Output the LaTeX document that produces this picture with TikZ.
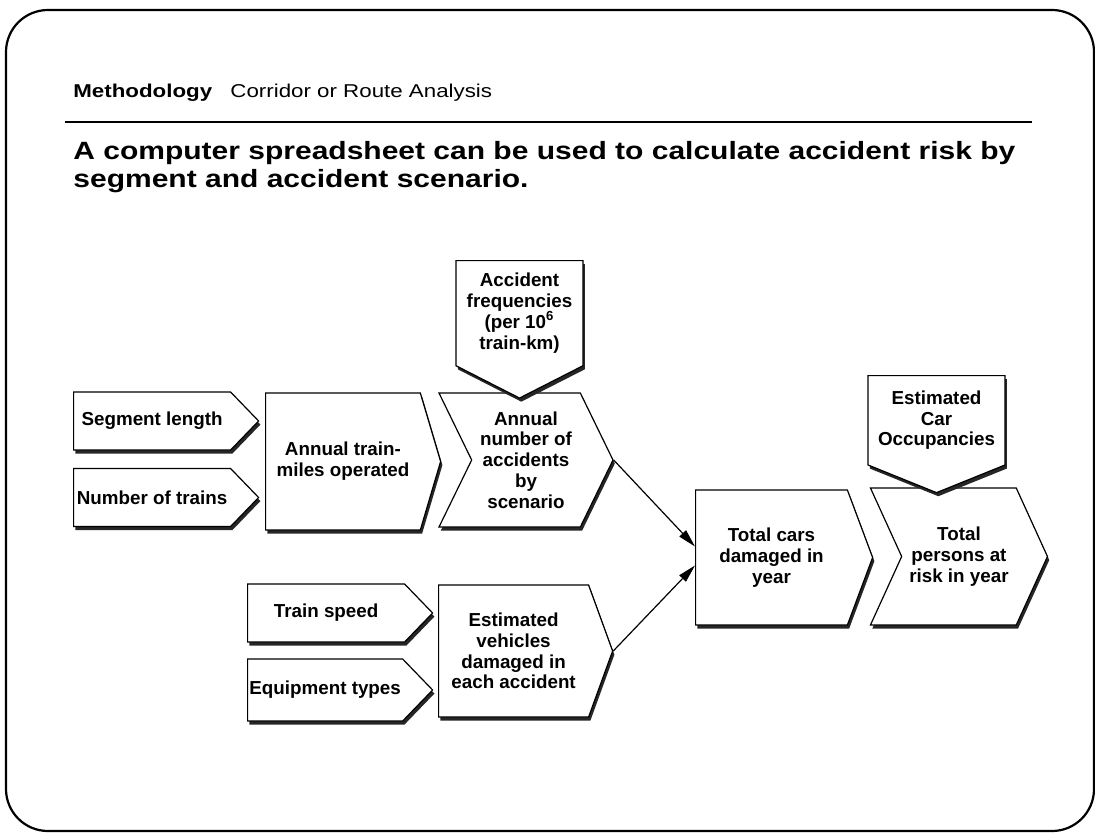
\documentclass[tikz,border=0pt]{standalone}
\usepackage{fontspec}
\setmainfont{Liberation Sans}
\newfontfamily\widesans[FakeStretch=1.2]{Liberation Sans}
\usetikzlibrary{shapes.symbols,shadows,arrows.meta}

\tikzset{
  chev/.style={signal, signal to=east, draw, fill=white, line width=0.6pt,
    inner sep=0pt, align=center, font=\fontsize{9.4}{10.4}\selectfont\bfseries,
    drop shadow={shadow xshift=0.9pt, shadow yshift=-1.8pt, opacity=1, fill=black!85}},
  tag/.style={chev, signal to=south},
  link/.style={-{Triangle[length=9pt,width=4.5pt]}, line width=0.6pt},
}

\begin{document}
\begin{tikzpicture}[x=0.5pt,y=-0.5pt]
\useasboundingbox (0,0) rectangle (1095,834);
\draw[line width=1.1pt, rounded corners=21pt] (6,10) rectangle (1094,831);

% heading
\node[anchor=base west, inner sep=0] (meth) at (73,98)
  {\fontsize{9.3}{11}\widesans\bfseries Methodology};
\node[anchor=base west, inner sep=0] (route) at (230,98)
  {\fontsize{9.3}{11}\widesans Corridor or Route Analysis};
\draw[line width=1pt] (65,122) -- (1032,122);
\node[anchor=base west, inner sep=0] (title1) at (73,160)
  {\fontsize{12.5}{14}\widesans\bfseries A computer spreadsheet can be used to calculate accident risk by};
\node[anchor=base west, inner sep=0] (title2) at (73,188)
  {\fontsize{12.5}{14}\widesans\bfseries segment and accident scenario.};

% inputs
\node[chev, anchor=west, minimum width=92.5pt, minimum height=29pt, signal pointer angle=92]
  (seglen) at (73,421) {Segment length};
\node[chev, anchor=west, minimum width=92.5pt, minimum height=29pt, signal pointer angle=92]
  (ntrains) at (73,497.5) {Number of trains};
\node[chev, anchor=west, minimum width=92.5pt, minimum height=29pt, signal pointer angle=92]
  (speed) at (247,613) {Train speed};
\node[chev, anchor=west, minimum width=92.5pt, minimum height=31pt, signal pointer angle=92]
  (equip) at (247,690) {Equipment types};

% middle steps
\node[chev, anchor=west, minimum width=87.5pt, minimum height=68.5pt, signal pointer angle=147]
  (miles) at (265,461.5) {Annual train-\\miles operated};
\node[chev, signal from=west, anchor=west, minimum width=87pt, minimum height=67pt, signal pointer angle=128]
  (acc) at (471,460) {Annual\\number of\\accidents\\by\\scenario};
\node[tag, anchor=north, minimum width=63.5pt, minimum height=66pt, signal pointer angle=126]
  (freq) at (519.5,260) {Accident\\frequencies\\(per 10\textsuperscript{6}\\train-km)};
\node[chev, anchor=west, minimum width=87pt, minimum height=66pt, signal pointer angle=140]
  (veh) at (438,651) {Estimated\\vehicles\\damaged in\\each accident};

% results
\node[chev, anchor=west, minimum width=88.5pt, minimum height=67.5pt, signal pointer angle=139]
  (cars) at (695,557.5) {Total cars\\damaged in\\year};
\node[chev, signal from=west, anchor=west, minimum width=88.5pt, minimum height=68.5pt, signal pointer angle=131]
  (persons) at (901,556.5) {Total\\persons at\\risk in year};
\node[tag, anchor=north, minimum width=68.5pt, minimum height=56.5pt, signal pointer angle=136]
  (occup) at (936.5,375) {Estimated\\Car\\Occupancies};

\draw[link] (acc.east) -- ([yshift=5.5pt]cars.west);
\draw[link] (veh.east) -- ([yshift=-4pt]cars.west);
\end{tikzpicture}
\end{document}
